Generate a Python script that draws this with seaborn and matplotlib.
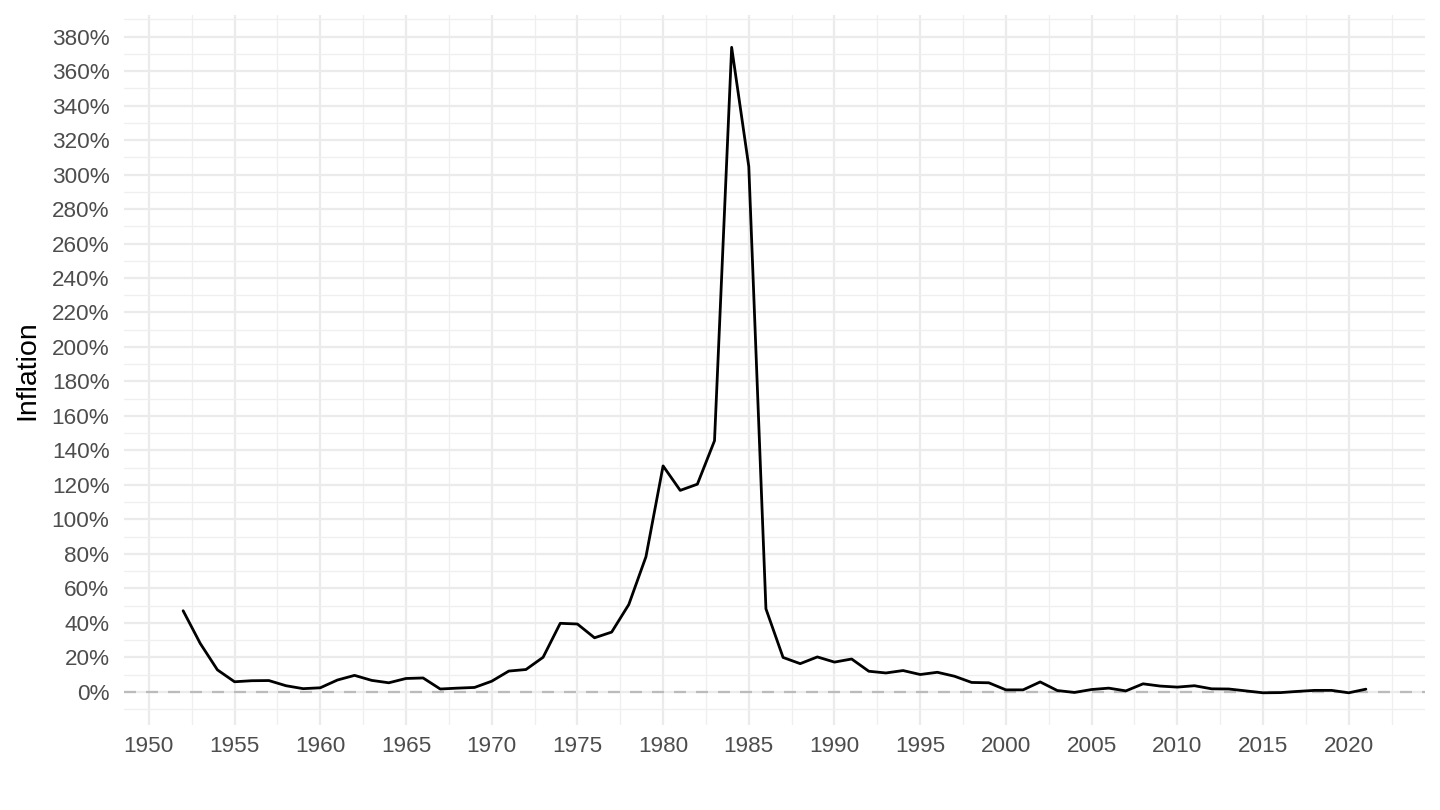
import numpy as np
import pandas as pd
import matplotlib
matplotlib.use("Agg")
import matplotlib.pyplot as plt
import seaborn as sns
from matplotlib.ticker import MultipleLocator, FuncFormatter

years = list(range(1952, 2022))
inflation = [47.0, 28.0, 12.7, 5.8, 6.4, 6.5, 3.5, 1.8, 2.3, 6.8,
             9.5, 6.6, 5.2, 7.7, 8.0, 1.6, 2.1, 2.5, 6.1, 12.0,
             12.9, 20.0, 39.7, 39.3, 31.3, 34.6, 50.6, 78.3, 131.0, 116.8,
             120.4, 145.6, 373.8, 304.6, 48.1, 19.9, 16.3, 20.2, 17.2, 19.0,
             11.9, 10.9, 12.3, 10.0, 11.3, 9.0, 5.4, 5.2, 1.1, 1.1,
             5.7, 0.7, -0.4, 1.3, 2.1, 0.5, 4.6, 3.3, 2.7, 3.5,
             1.7, 1.6, 0.5, -0.6, -0.5, 0.2, 0.8, 0.8, -0.6, 1.5]

df = pd.DataFrame({"year": years, "inflation": inflation})

sns.set_theme(style="white")
plt.rcParams['font.family'] = ['Liberation Sans', 'DejaVu Sans']

fig = plt.figure(figsize=(14.4, 8.1), dpi=100)
ax = fig.add_axes([0.0861, 0.1049, 0.9035, 0.8765])

ax.axhline(0, color="#BBBBBB", lw=1.6, ls=(0, (5.4, 4.5)), zorder=2)
sns.lineplot(data=df, x="year", y="inflation", color="black", lw=2.0, ax=ax, zorder=3)

ax.set_xlim(1948.55, 2024.45)
ax.set_ylim(-19.3, 392.5)
ax.xaxis.set_major_locator(MultipleLocator(5))
ax.xaxis.set_minor_locator(MultipleLocator(2.5))
ax.yaxis.set_major_locator(MultipleLocator(20))
ax.yaxis.set_minor_locator(MultipleLocator(10))
ax.yaxis.set_major_formatter(FuncFormatter(lambda v, p: f"{v:.0f}%"))

ax.grid(which="major", color="#EBEBEB", lw=1.6)
ax.grid(which="minor", color="#EFEFEF", lw=0.9)
ax.set_axisbelow(True)
for s in ax.spines.values():
    s.set_visible(False)
ax.tick_params(which="both", length=0)
ax.tick_params(axis="y", labelsize=16.2, labelcolor="#4D4D4D", pad=10.5)
ax.tick_params(axis="x", labelsize=16.2, labelcolor="#4D4D4D", pad=8)
ax.set_xlabel("")
ax.set_ylabel("Inflation", fontsize=20.5, color="black", labelpad=8)

fig.savefig("out.png", dpi=100, facecolor="white")
